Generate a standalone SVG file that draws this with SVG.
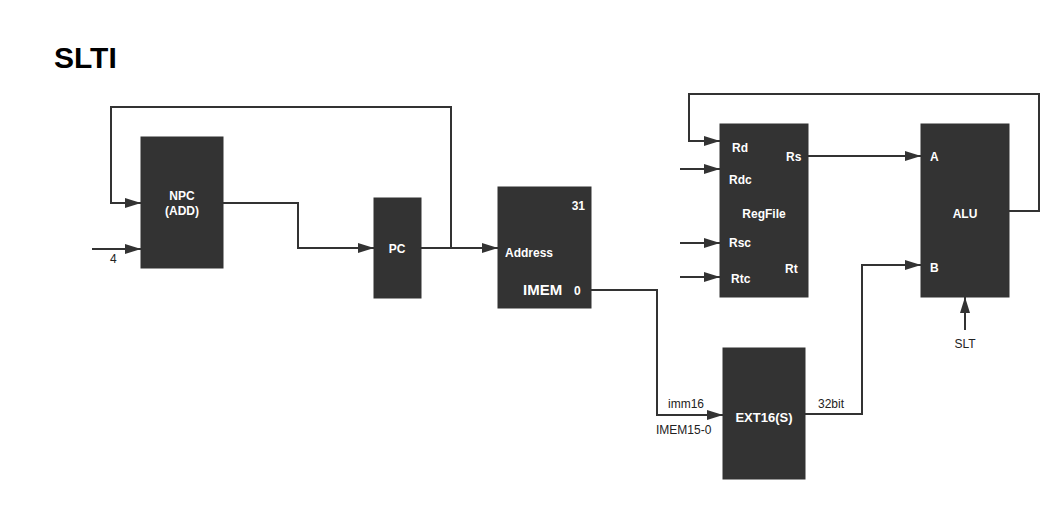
<svg xmlns="http://www.w3.org/2000/svg" width="1064" height="505" viewBox="0 0 1064 505">
<style>
.box{fill:#333333;stroke:#333333;}
.w{fill:#ffffff;font-family:"Liberation Sans",Arial,sans-serif;font-size:12px;font-weight:bold;}
.l{fill:#222222;font-family:"Liberation Sans",Arial,sans-serif;font-size:12px;}
.c{fill:none;stroke:#333333;stroke-width:2;}
</style>
<defs>
<marker id="ah" markerUnits="userSpaceOnUse" markerWidth="16" markerHeight="10" refX="16" refY="5" orient="auto">
<path d="M0,0 L16,5 L0,10 z" fill="#333333"/>
</marker>
</defs>
<rect width="1064" height="505" fill="#ffffff"/>
<text x="54" y="68" font-family="'Liberation Sans',Arial,sans-serif" font-size="30" font-weight="bold" fill="#000">SLTI</text>

<g id="connectors">
<path class="c" d="M451,248 V107 H111 V203 H141" marker-end="url(#ah)"/>
<path class="c" d="M92,249 H141" marker-end="url(#ah)"/>
<path class="c" d="M223,203 H298 V248 H374" marker-end="url(#ah)"/>
<path class="c" d="M421,248 H498" marker-end="url(#ah)"/>
<path class="c" d="M591,290 H657 V415 H723" marker-end="url(#ah)"/>
<path class="c" d="M805,414 H862 V265 H921" marker-end="url(#ah)"/>
<path class="c" d="M1009,211 H1039 V94 H689 V141 H720" marker-end="url(#ah)"/>
<path class="c" d="M680,169 H720" marker-end="url(#ah)"/>
<path class="c" d="M680,243 H720" marker-end="url(#ah)"/>
<path class="c" d="M680,277 H720" marker-end="url(#ah)"/>
<path class="c" d="M808,156 H921" marker-end="url(#ah)"/>
<path class="c" d="M965,330 V297" marker-end="url(#ah)"/>
<text class="l" x="110" y="263">4</text>
<text class="l" x="668" y="408">imm16</text>
<text class="l" x="656" y="434">IMEM15-0</text>
<text class="l" x="818" y="408">32bit</text>
<text class="l" x="965" y="348" text-anchor="middle">SLT</text>
</g>

<g id="npc">
<rect class="box" x="141" y="137" width="82" height="131"/>
<text class="w" x="182" y="200" text-anchor="middle">NPC</text>
<text class="w" x="182" y="215" text-anchor="middle">(ADD)</text>
</g>
<g id="pc">
<rect class="box" x="374" y="198" width="47" height="100"/>
<text class="w" x="397" y="253" text-anchor="middle">PC</text>
</g>
<g id="imem">
<rect class="box" x="498" y="187" width="93" height="121"/>
<text class="w" x="585" y="210" text-anchor="end">31</text>
<text class="w" x="505" y="257">Address</text>
<text class="w" x="523" y="295" style="font-size:15px">IMEM</text>
<text class="w" x="574" y="295">0</text>
</g>
<g id="ext16">
<rect class="box" x="723" y="348" width="82" height="131"/>
<text class="w" x="764" y="422" text-anchor="middle" style="font-size:13px">EXT16(S)</text>
</g>
<g id="regfile">
<rect class="box" x="720" y="124" width="88" height="173"/>
<text class="w" x="732" y="152">Rd</text>
<text class="w" x="729" y="184">Rdc</text>
<text class="w" x="764" y="218" text-anchor="middle">RegFile</text>
<text class="w" x="729" y="247">Rsc</text>
<text class="w" x="731" y="283">Rtc</text>
<text class="w" x="786" y="161">Rs</text>
<text class="w" x="785" y="273">Rt</text>
</g>
<g id="alu">
<rect class="box" x="921" y="124" width="88" height="173"/>
<text class="w" x="930" y="161">A</text>
<text class="w" x="965" y="218" text-anchor="middle">ALU</text>
<text class="w" x="930" y="272">B</text>
</g>
</svg>
